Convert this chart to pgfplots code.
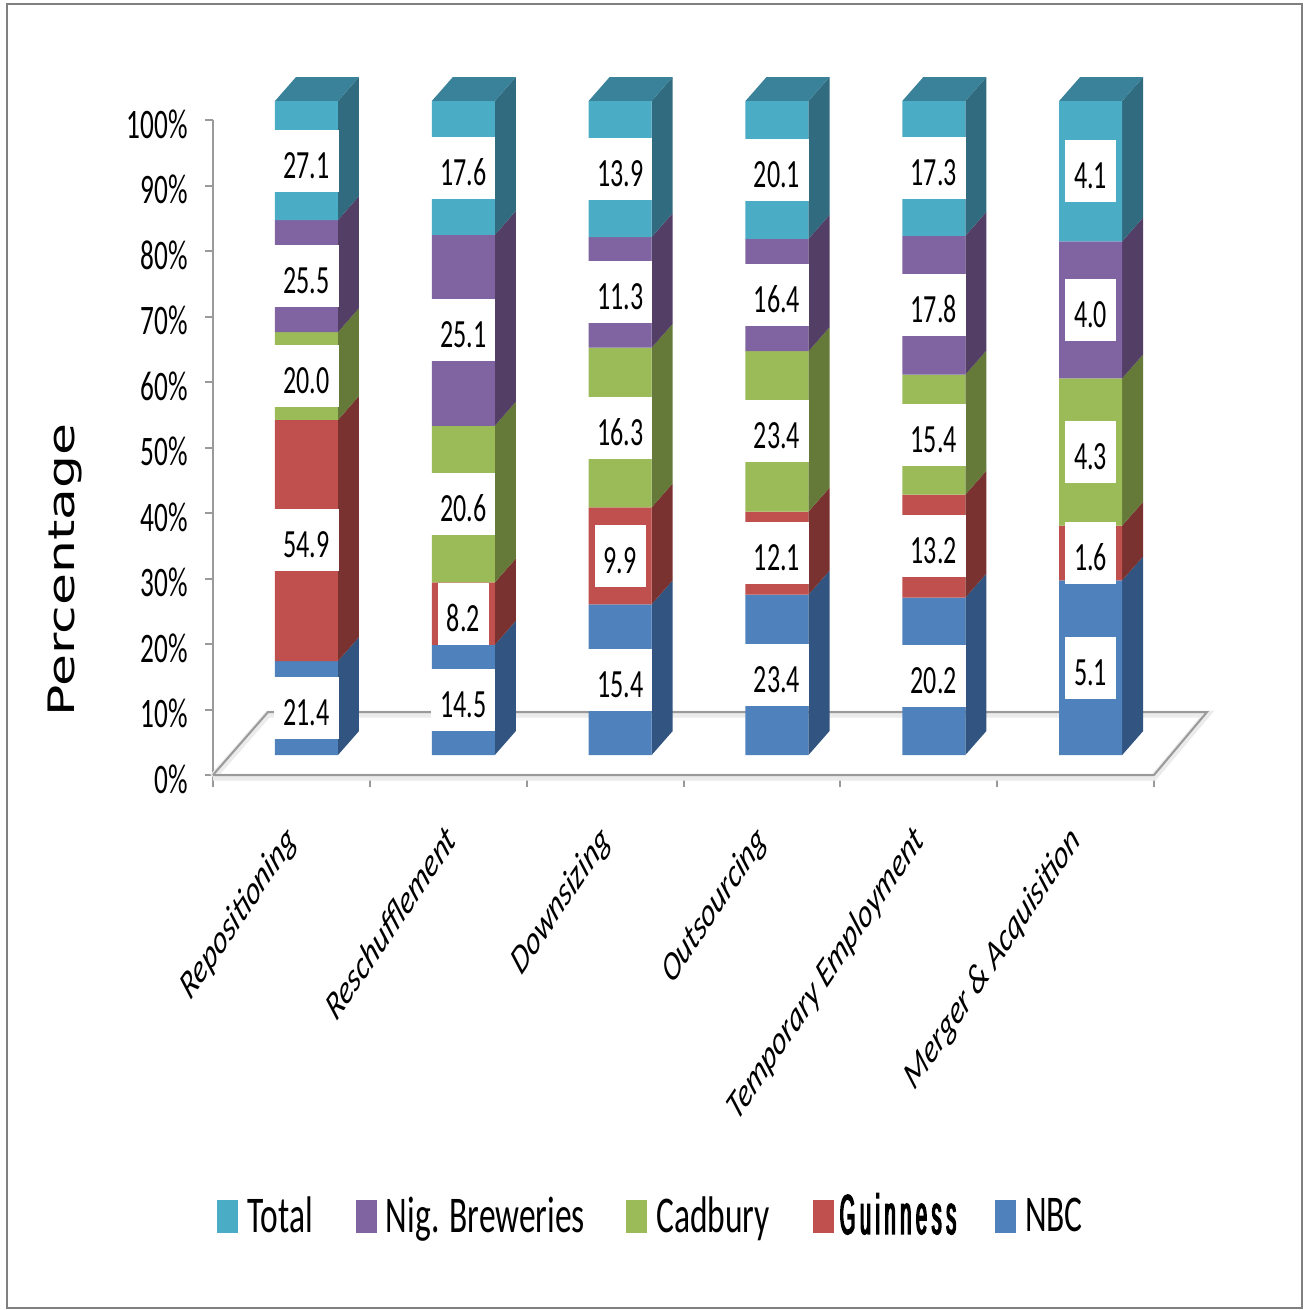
\documentclass[border=0pt]{standalone}
\usepackage{pgfplots}
\usepackage{pgfplotstable}
\usepackage{graphicx}
\usepackage{fontspec}
\pgfplotsset{compat=1.18}
\setmainfont{Carlito}[FakeStretch=0.65]
\newfontfamily\plainfont{Carlito}
\newfontfamily\wordfont{DejaVu Sans}
\newfontfamily\boldnarrow{Liberation Sans}[FakeStretch=0.36,FakeBold=2.5,LetterSpace=8]

\definecolor{nbcF}{HTML}{4F81BD}\definecolor{nbcS}{HTML}{325480}
\definecolor{guiF}{HTML}{C0504D}\definecolor{guiS}{HTML}{7A3230}
\definecolor{cadF}{HTML}{9BBB59}\definecolor{cadS}{HTML}{657A38}
\definecolor{nigF}{HTML}{8064A2}\definecolor{nigS}{HTML}{533E66}
\definecolor{totF}{HTML}{4BACC6}\definecolor{totS}{HTML}{316B7F}
\definecolor{totT}{HTML}{3A8299}
\definecolor{rule}{HTML}{9A9A9A}

% Column shares as reported, with each strategy's row total
\pgfplotstableread{
pos   nbc  gui  cad  nig  tot  sum
0.596 21.4 54.9 20.0 25.5 27.1 148.9
1.596 14.5 8.2  20.6 25.1 17.6 86.0
2.596 15.4 9.9  16.3 11.3 13.9 66.8
3.596 23.4 12.1 23.4 16.4 20.1 95.4
4.596 20.2 13.2 15.4 17.8 17.3 83.9
5.596 5.1  1.6  4.3  4.0  4.1  19.1
}\shares

\def\colH{99.85}   % height of a full column in axis units
\def\colB{3.05}    % floor level under the columns
\def\halfW{0.2009} % half a column width in category units
\def\depX{0.134}   % depth offset, x
\def\depY{3.66}    % depth offset, y

% Right-hand face of one stacked segment
\newcommand\sidesegment[2]{%
  \pgfplotstablegetelem{\r}{#1}\of\shares
  \pgfmathsetmacro\hi{\lo+\pgfplotsretval/\total*\colH}
  \pgfmathsetmacro\lob{\lo+\depY}
  \pgfmathsetmacro\hib{\hi+\depY}
  \edef\temp{\noexpand\addplot[fill=#2,draw=none,forget plot]
    coordinates {(\xr,\lo)(\xb,\lob)(\xb,\hib)(\xr,\hi)};}%
  \temp
  \let\lo\hi
}

% Front segment of a stacked column
\pgfplotsset{front/.style={ybar stacked,bar width=63pt,fill=#1,draw=none,forget plot}}
% Value labels sitting at the middle of a segment
\pgfplotsset{
  valuelabel/.style={sharp plot,draw=none,mark=none,forget plot,stack plots=false,
    point meta=explicit symbolic,nodes near coords,
    every node near coord/.style={anchor=center,fill=white,text=black,
      inner xsep=9pt,inner ysep=0pt,minimum height=62pt,
      text height=35pt,text depth=0pt,
      font=\fontsize{40}{40}\selectfont}}
}

\begin{document}
\begin{tikzpicture}
\path[use as bounding box] (0pt,0pt) rectangle (1306pt,-1310pt);
\draw[color=black!50,line width=2.5pt] (7pt,-4pt) rectangle (1302pt,-1308pt);
\begin{axis}[
  at={(213pt,-775pt)},anchor=south west,
  scale only axis,width=941pt,height=655pt,
  xmin=0,xmax=6,ymin=0,ymax=100,
  clip=false,
  axis lines=left,
  axis line style={-,color=rule,line width=2.5pt},
  tick style={color=rule,line width=2pt},
  tick align=outside,
  major tick length=8pt,
  xtick={0,...,6},xticklabels={},
  xtick style={/pgfplots/major tick length=12pt},
  extra x ticks={0.5,1.5,2.5,3.5,4.5,5.5},
  extra x tick labels={
    {\scalebox{0.67}[1]{\rotatebox{45}{\plainfont\itshape Repositioning}}},
    {\scalebox{0.67}[1]{\rotatebox{45}{\plainfont\itshape Reschufflement}}},
    {\scalebox{0.67}[1]{\rotatebox{45}{\plainfont\itshape Downsizing}}},
    {\scalebox{0.67}[1]{\rotatebox{45}{\plainfont\itshape Outsourcing}}},
    {\scalebox{0.67}[1]{\rotatebox{45}{\plainfont\itshape Temporary Employment}}},
    {\scalebox{0.67}[1]{\rotatebox{45}{\plainfont\itshape Merger \& Acquisition}}}},
  extra x tick style={
    tick style={draw=none},
    xticklabel style={anchor=north east,inner sep=0pt,xshift=9.5pt,yshift=-39pt,
      font=\fontsize{41}{41}\selectfont}},
  ytick={0,10,...,100},
  yticklabel={\pgfmathprintnumber{\tick}\%},
  /pgf/number format/assume math mode=true,
  yticklabel style={font=\fontsize{42}{42}\selectfont,inner sep=0pt,xshift=-17pt,yshift=-4pt},
  ylabel={\scalebox{0.7}[1]{\rotatebox{90}{\wordfont\fontsize{52}{52}\selectfont Percentage}}},
  every axis y label/.style={at={(rel axis cs:-0.157,0.313)},anchor=center},
  legend style={at={(rel axis cs:0.001,-0.673)},anchor=west,draw=none,fill=none,
    legend columns=-1,nodes={inner sep=0pt},
    /tikz/every odd column/.style={column sep=10pt},
    font=\fontsize{51.5}{51.5}\selectfont},
  legend image code/.code={\fill[#1] (0pt,-16pt) rectangle (20pt,16pt);},
]
% Floor of the plot area with its soft shadow
\addplot[draw=black!8,line width=7pt,forget plot,yshift=-2pt]
  coordinates {(0,0)(6,0)(6.338,9.62)(0.351,9.62)(0,0)};
\addplot[draw=rule,line width=2pt,forget plot]
  coordinates {(0,0)(6,0)(6.338,9.62)(0.351,9.62)(0,0)};

% Side and top faces of every column
\pgfplotsforeachungrouped \r in {0,...,5}{%
  \pgfplotstablegetelem{\r}{pos}\of\shares
  \pgfmathsetmacro\xl{\pgfplotsretval-\halfW}
  \pgfmathsetmacro\xr{\pgfplotsretval+\halfW}
  \pgfmathsetmacro\xb{\xr+\depX}
  \pgfmathsetmacro\xlb{\xl+\depX}
  \pgfplotstablegetelem{\r}{sum}\of\shares
  \let\total\pgfplotsretval
  \let\lo\colB
  \sidesegment{nbc}{nbcS}%
  \sidesegment{gui}{guiS}%
  \sidesegment{cad}{cadS}%
  \sidesegment{nig}{nigS}%
  \sidesegment{tot}{totS}%
  \pgfmathsetmacro\topb{\lo+\depY}
  \edef\temp{\noexpand\addplot[fill=totT,draw=none,forget plot]
    coordinates {(\xl,\lo)(\xlb,\topb)(\xb,\topb)(\xr,\lo)};}%
  \temp
}

% Front faces, stacked from the floor level
\addplot[ybar stacked,bar width=63pt,draw=none,fill=none,forget plot]
  table[x=pos,y expr=\colB] {\shares};
\addplot[front=nbcF] table[x=pos,y expr=\thisrow{nbc}/\thisrow{sum}*\colH] {\shares};
\addplot[front=guiF] table[x=pos,y expr=\thisrow{gui}/\thisrow{sum}*\colH] {\shares};
\addplot[front=cadF] table[x=pos,y expr=\thisrow{cad}/\thisrow{sum}*\colH] {\shares};
\addplot[front=nigF] table[x=pos,y expr=\thisrow{nig}/\thisrow{sum}*\colH] {\shares};
\addplot[front=totF] table[x=pos,y expr=\thisrow{tot}/\thisrow{sum}*\colH] {\shares};

% Value labels
\addplot[valuelabel] table[x=pos,meta=nbc,
  y expr=\colB+(0.5*\thisrow{nbc})/\thisrow{sum}*\colH] {\shares};
\addplot[valuelabel] table[x=pos,meta=gui,
  y expr=\colB+(\thisrow{nbc}+0.5*\thisrow{gui})/\thisrow{sum}*\colH] {\shares};
\addplot[valuelabel] table[x=pos,meta=cad,
  y expr=\colB+(\thisrow{nbc}+\thisrow{gui}+0.5*\thisrow{cad})/\thisrow{sum}*\colH] {\shares};
\addplot[valuelabel] table[x=pos,meta=nig,
  y expr=\colB+(\thisrow{nbc}+\thisrow{gui}+\thisrow{cad}+0.5*\thisrow{nig})/\thisrow{sum}*\colH] {\shares};
\addplot[valuelabel] table[x=pos,meta=tot,
  y expr=\colB+(\thisrow{nbc}+\thisrow{gui}+\thisrow{cad}+\thisrow{nig}+0.5*\thisrow{tot})/\thisrow{sum}*\colH] {\shares};

% Key
\addlegendimage{totF}\addlegendentry{\makebox[108pt][l]{Total}}
\addlegendimage{nigF}\addlegendentry{\makebox[240pt][l]{Nig. Breweries}}
\addlegendimage{cadF}\addlegendentry{\makebox[157pt][l]{Cadbury}}
\addlegendimage{guiF}\addlegendentry{\makebox[151pt][l]{\hspace*{-4pt}\raisebox{3pt}{\fontsize{56}{56}\boldnarrow Guinness}}}
\addlegendimage{nbcF}\addlegendentry{\makebox[60pt][l]{NBC}}
\end{axis}
\end{tikzpicture}
\end{document}
